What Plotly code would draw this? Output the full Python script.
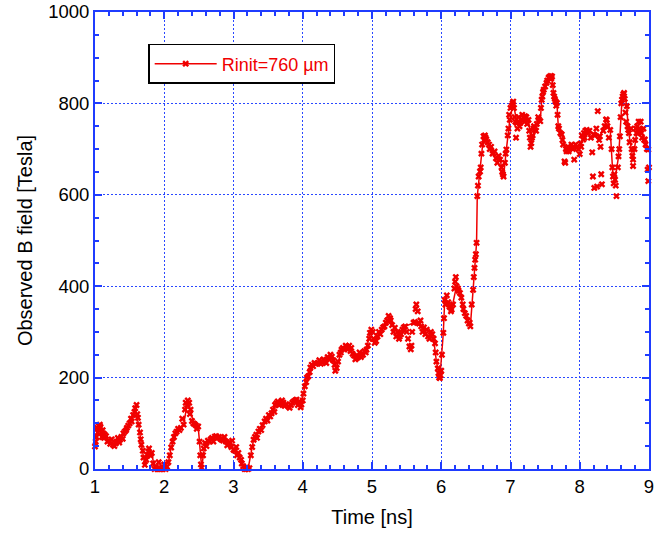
import plotly.graph_objects as go

# smoothed curve (line with markers)
line_t = [1.00, 1.04, 1.07, 1.11, 1.14, 1.20, 1.26, 1.31, 1.36, 1.41, 1.46, 1.53, 1.58, 1.63, 1.67, 1.72, 1.77, 1.82, 1.86, 1.95,
          2.00, 2.06, 2.10, 2.18, 2.28, 2.34, 2.38, 2.42, 2.49, 2.54, 2.59, 2.65, 2.73, 2.83, 2.93, 3.00, 3.07, 3.14, 3.21, 3.29,
          3.36, 3.45, 3.55, 3.62, 3.70, 3.79, 3.85, 3.91, 3.98, 4.03, 4.08, 4.13, 4.22, 4.32, 4.42, 4.49, 4.56, 4.63, 4.70, 4.78,
          4.85, 4.92, 4.97, 5.04, 5.14, 5.26, 5.33, 5.40, 5.48, 5.60, 5.71, 5.81, 5.89, 5.93, 5.98, 6.03, 6.05, 6.15, 6.22, 6.27,
          6.34, 6.42, 6.46, 6.49, 6.51, 6.52, 6.56, 6.61, 6.65, 6.75, 6.85, 6.90, 6.94, 6.99, 7.04, 7.09, 7.14, 7.21, 7.26, 7.30,
          7.35, 7.43, 7.45, 7.50, 7.55, 7.60, 7.62, 7.67, 7.69, 7.74, 7.81, 7.86, 7.96, 8.05, 8.10, 8.20, 8.29, 8.39, 8.44, 8.48,
          8.51, 8.56, 8.58, 8.61, 8.64, 8.68, 8.70, 8.77, 8.82, 8.87, 8.94, 8.99]
line_b = [49, 80, 97, 85, 75, 62, 53, 60, 64, 78, 90, 104, 133, 97, 53, 9, 38, 35, 0, 0,
          10, 15, 47, 82, 97, 150, 130, 100, 93, 3, 57, 60, 71, 64, 57, 42, 35, 6, 0, 64,
          82, 104, 122, 144, 150, 137, 145, 152, 141, 181, 203, 228, 232, 235, 246, 221, 261, 268, 265, 243,
          250, 261, 298, 276, 305, 330, 309, 290, 312, 320, 312, 290, 285, 235, 199, 298, 370, 349, 400, 385,
          341, 312, 392, 458, 495, 597, 651, 728, 721, 691, 677, 640, 699, 764, 804, 757, 757, 772, 764, 713,
          742, 761, 808, 837, 856, 859, 823, 801, 750, 732, 695, 702, 704, 721, 742, 732, 728, 764, 742, 640,
          633, 684, 728, 808, 823, 794, 742, 677, 735, 742, 721, 699]

# raw measured points (markers only)
raw_t = [1.01, 1.02, 1.03, 1.05, 1.06, 1.08, 1.09, 1.10, 1.12, 1.13, 1.16, 1.18, 1.22, 1.24, 1.28, 1.30, 1.33, 1.35, 1.38, 1.40,
         1.43, 1.45, 1.48, 1.50, 1.52, 1.55, 1.57, 1.60, 1.61, 1.62, 1.65, 1.66, 1.69, 1.70, 1.74, 1.76, 1.78, 1.80, 1.84, 1.88,
         1.90, 1.92, 1.93, 1.97, 1.98, 2.02, 2.04, 2.08, 2.12, 2.14, 2.16, 2.20, 2.22, 2.24, 2.26, 2.30, 2.31, 2.33, 2.36, 2.37,
         2.40, 2.44, 2.46, 2.47, 2.51, 2.52, 2.53, 2.56, 2.57, 2.61, 2.63, 2.67, 2.69, 2.71, 2.75, 2.77, 2.79, 2.81, 2.85, 2.87,
         2.89, 2.91, 2.95, 2.97, 2.98, 3.02, 3.04, 3.05, 3.09, 3.11, 3.12, 3.16, 3.18, 3.19, 3.23, 3.25, 3.27, 3.31, 3.33, 3.34,
         3.38, 3.40, 3.42, 3.47, 3.49, 3.51, 3.53, 3.57, 3.59, 3.60, 3.64, 3.66, 3.68, 3.72, 3.74, 3.76, 3.81, 3.83, 3.87, 3.89,
         3.93, 3.95, 3.97, 4.00, 4.01, 4.05, 4.06, 4.10, 4.11, 4.15, 4.17, 4.19, 4.24, 4.26, 4.28, 4.30, 4.34, 4.36, 4.38, 4.40,
         4.44, 4.46, 4.47, 4.51, 4.53, 4.55, 4.58, 4.60, 4.62, 4.65, 4.67, 4.69, 4.72, 4.74, 4.76, 4.80, 4.82, 4.84, 4.87, 4.89,
         4.91, 4.94, 4.96, 4.99, 5.01, 5.02, 5.06, 5.08, 5.10, 5.12, 5.16, 5.18, 5.20, 5.22, 5.24, 5.27, 5.29, 5.31, 5.35, 5.37,
         5.39, 5.42, 5.44, 5.46, 5.50, 5.52, 5.54, 5.56, 5.57, 5.58, 5.62, 5.63, 5.64, 5.66, 5.68, 5.70, 5.73, 5.75, 5.77, 5.79,
         5.83, 5.85, 5.87, 5.91, 5.92, 5.95, 5.96, 5.97, 5.99, 6.00, 6.01, 6.04, 6.06, 6.08, 6.10, 6.12, 6.14, 6.17, 6.19, 6.20,
         6.21, 6.24, 6.25, 6.29, 6.31, 6.32, 6.36, 6.38, 6.40, 6.41, 6.44, 6.47, 6.48, 6.50, 6.53, 6.54, 6.57, 6.58, 6.59, 6.62,
         6.63, 6.64, 6.67, 6.69, 6.70, 6.72, 6.74, 6.77, 6.79, 6.81, 6.83, 6.87, 6.88, 6.89, 6.92, 6.93, 6.96, 6.97, 6.98, 7.00,
         7.02, 7.03, 7.05, 7.06, 7.07, 7.08, 7.10, 7.11, 7.12, 7.13, 7.16, 7.17, 7.19, 7.20, 7.23, 7.24, 7.27, 7.28, 7.29, 7.31,
         7.32, 7.33, 7.34, 7.37, 7.38, 7.40, 7.41, 7.44, 7.46, 7.47, 7.48, 7.52, 7.53, 7.56, 7.57, 7.58, 7.59, 7.61, 7.63, 7.64,
         7.65, 7.66, 7.68, 7.70, 7.72, 7.75, 7.76, 7.78, 7.79, 7.80, 7.83, 7.84, 7.88, 7.90, 7.92, 7.94, 7.98, 8.00, 8.01, 8.02,
         8.03, 8.06, 8.07, 8.08, 8.12, 8.14, 8.16, 8.18, 8.19, 8.21, 8.22, 8.24, 8.25, 8.26, 8.28, 8.30, 8.31, 8.32, 8.34, 8.36,
         8.38, 8.40, 8.42, 8.46, 8.47, 8.49, 8.50, 8.52, 8.53, 8.55, 8.57, 8.59, 8.60, 8.62, 8.63, 8.65, 8.66, 8.67, 8.69, 8.71,
         8.72, 8.74, 8.75, 8.76, 8.77, 8.79, 8.80, 8.81, 8.83, 8.84, 8.85, 8.86, 8.88, 8.89, 8.90, 8.92, 8.93, 8.95, 8.97, 8.98,
         8.99, 9.00]
raw_b = [60, 70, 90, 95, 88, 92, 80, 70, 78, 68, 72, 60, 55, 65, 50, 56, 68, 58, 70, 66,
         82, 85, 95, 100, 110, 118, 125, 140, 120, 112, 80, 65, 40, 25, 20, 30, 45, 30, 12, 5,
         0, 15, 0, 5, 0, 0, 5, 30, 60, 70, 78, 88, 85, 90, 110, 130, 145, 140, 145, 120,
         105, 98, 95, 88, 60, 30, 10, 30, 45, 50, 62, 65, 68, 60, 72, 68, 70, 66, 62, 70,
         60, 52, 58, 48, 62, 40, 48, 30, 25, 20, 12, 0, 0, 4, 2, 30, 48, 70, 75, 68,
         88, 85, 96, 110, 106, 118, 115, 130, 125, 140, 148, 140, 142, 145, 138, 142, 134, 140, 148, 150,
         140, 148, 135, 150, 165, 190, 200, 212, 222, 225, 232, 230, 238, 230, 234, 240, 232, 245, 240, 250,
         238, 228, 215, 235, 250, 255, 265, 262, 270, 262, 270, 258, 252, 248, 240, 245, 255, 245, 250, 258,
         255, 270, 285, 305, 300, 285, 280, 290, 300, 295, 310, 312, 320, 325, 335, 325, 315, 300, 290, 300,
         285, 295, 305, 310, 300, 285, 268, 262, 270, 300, 322, 350, 360, 345, 318, 325, 300, 310, 295, 305,
         285, 300, 295, 275, 255, 220, 210, 200, 205, 215, 250, 330, 360, 380, 365, 355, 345, 360, 395, 410,
         420, 395, 390, 375, 360, 350, 335, 325, 318, 320, 360, 420, 440, 470, 620, 640, 660, 690, 710, 720,
         730, 725, 715, 710, 700, 705, 690, 695, 680, 670, 685, 660, 650, 645, 670, 690, 730, 745, 775, 790,
         795, 800, 790, 770, 760, 725, 745, 760, 770, 750, 765, 775, 770, 760, 770, 755, 740, 725, 705, 725,
         730, 745, 750, 740, 755, 770, 765, 790, 815, 825, 830, 845, 850, 858, 855, 860, 855, 840, 815, 810,
         805, 795, 775, 745, 735, 720, 710, 673, 670, 700, 705, 695, 710, 700, 677, 710, 700, 689, 712, 705,
         730, 735, 725, 740, 735, 740, 725, 693, 640, 615, 730, 745, 618, 783, 720, 705, 645, 623, 740, 750,
         765, 750, 725, 700, 660, 625, 645, 620, 597, 660, 700, 770, 800, 815, 820, 810, 780, 760, 750, 735,
         715, 745, 700, 685, 663, 700, 720, 745, 750, 735, 760, 745, 760, 735, 725, 745, 720, 710, 700, 655,
         630, 660]

x_ticks = [1, 2, 3, 4, 5, 6, 7, 8, 9]
y_ticks = [0, 200, 400, 600, 800, 1000]

RED = "#f00000"
AXC = "#1f3cff"
GRID = "#2a48ff"
FONT = "Liberation Sans, Arial, Helvetica, sans-serif"

fig = go.Figure()
fig.add_trace(go.Scatter(
    x=raw_t, y=raw_b, mode="markers", showlegend=False, cliponaxis=False,
    marker=dict(symbol="x", size=6, color=RED, line=dict(width=0)),
))
fig.add_trace(go.Scatter(
    x=line_t, y=line_b, mode="lines+markers", name="Rinit=760 \u00b5m", cliponaxis=False,
    line=dict(color=RED, width=1.5),
    marker=dict(symbol="x", size=6, color=RED, line=dict(width=0)),
))

axis_common = dict(
    showline=True, linecolor=AXC, linewidth=2, mirror="allticks",
    ticks="inside", ticklen=7, tickwidth=1.5, tickcolor=AXC,
    showgrid=True, gridcolor=GRID, griddash="2px,2px", gridwidth=1,
    zeroline=False, automargin=False, ticklabeloverflow="allow",
    tickfont=dict(family=FONT, size=18.5, color="black"),
)

fig.update_xaxes(
    range=[1, 9], tickvals=x_ticks, ticktext=[str(v) for v in x_ticks],
    title=dict(text="Time [ns]", font=dict(family=FONT, size=20, color="black"), standoff=14),
    minor=dict(ticks="inside", ticklen=4, tickwidth=1.5, tickcolor=AXC, dtick=0.2, showgrid=False),
    **axis_common,
)
fig.update_yaxes(
    range=[0, 1000], tickvals=y_ticks, ticktext=[str(v) for v in y_ticks],
    title=dict(text="Observed B field [Tesla]", font=dict(family=FONT, size=20, color="black"), standoff=10),
    minor=dict(ticks="inside", ticklen=4, tickwidth=1.5, tickcolor=AXC, dtick=50, showgrid=False),
    **axis_common,
)

fig.update_layout(
    width=672, height=534,
    margin=dict(l=95, r=23, t=12, b=65),
    paper_bgcolor="white", plot_bgcolor="white",
    font=dict(family=FONT, size=17, color="black"),
    legend=dict(
        x=0.096, y=0.93, xanchor="left", yanchor="top",
        bgcolor="white", bordercolor="black", borderwidth=1.5,
        font=dict(family=FONT, size=18, color=RED),
        itemwidth=62,
    ),
)

# remove the browser's default 8px body margin so the figure sits at the page origin
fig.write_html("out.html", config={"displayModeBar": False},
               post_script="document.body.style.margin='0';")
